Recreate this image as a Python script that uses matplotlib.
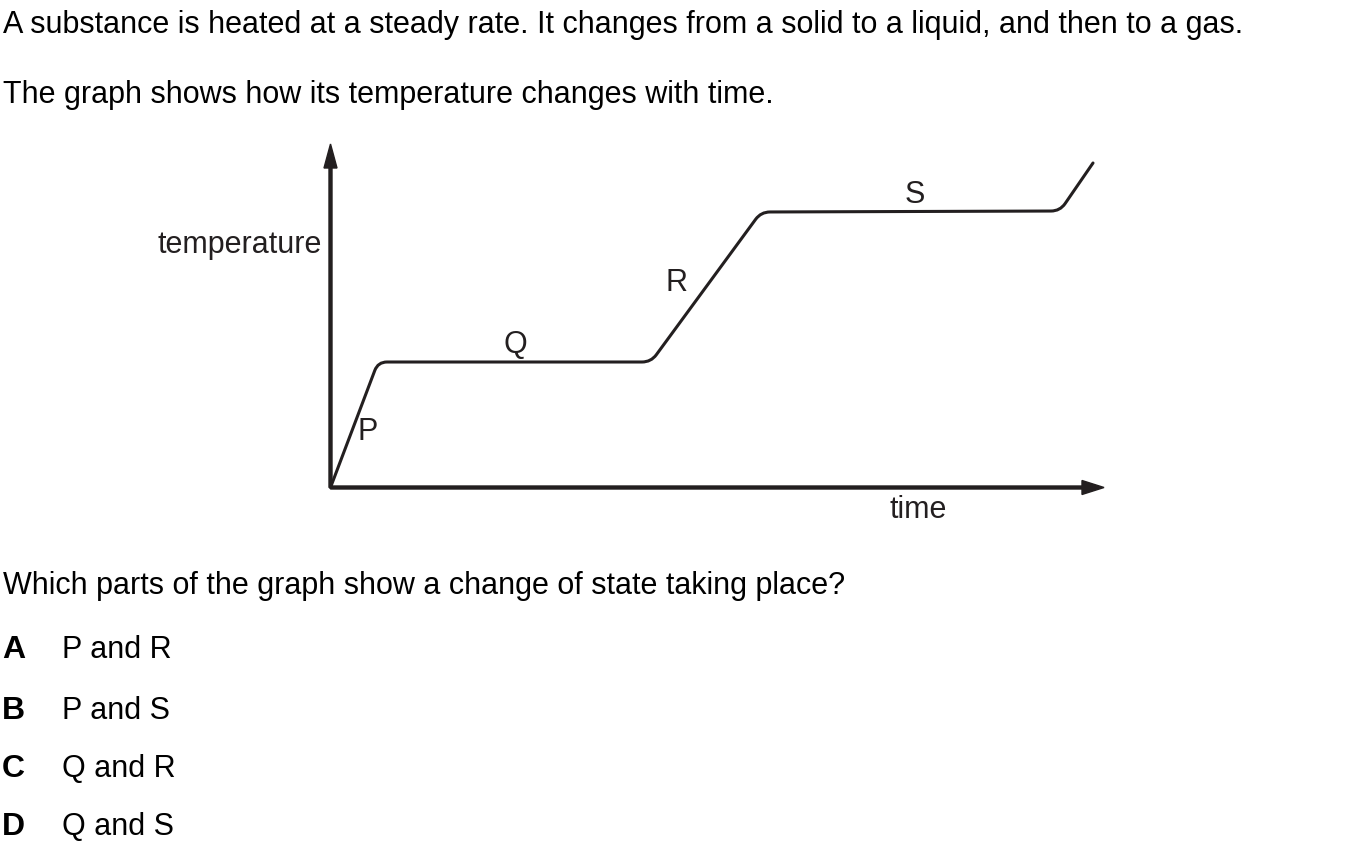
import numpy as np
import matplotlib
matplotlib.use("Agg")
import matplotlib.pyplot as plt
from matplotlib.path import Path
from matplotlib.patches import PathPatch

plt.rcParams['font.family'] = ['Liberation Sans', 'DejaVu Sans']

# heating curve corners (time, temperature), arbitrary units
time = [0, 47.5, 320.5, 430.5, 729.5, 762.5]
temperature = [0, 125.5, 125.5, 275.5, 276.5, 324.5]

# section labels: (text, time, temperature)
sections = ['P', 'Q', 'R', 'S']
label_time = [37.5, 184.5, 346.5, 584.5]
label_temp = [47.5, 134.5, 196.5, 284.5]

intro = ["A substance is heated at a steady rate. It changes from a solid to a liquid, and then to a gas.",
         "The graph shows how its temperature changes with time."]
question = "Which parts of the graph show a change of state taking place?"
letters = ['A', 'B', 'C', 'D']
answers = ['P and R', 'P and S', 'Q and R', 'Q and S']

ink = '#231f20'
W, H = 1354, 846


def rounded_path(xs, ys, r):
    pts = np.column_stack([xs, ys]).astype(float)
    verts = [pts[0]]
    codes = [Path.MOVETO]
    for i in range(1, len(pts) - 1):
        a, p, b = pts[i - 1], pts[i], pts[i + 1]
        u1 = (p - a) / np.hypot(*(p - a))
        u2 = (b - p) / np.hypot(*(b - p))
        verts += [p - u1 * r, p, p + u2 * r]
        codes += [Path.LINETO, Path.CURVE3, Path.CURVE3]
    verts.append(pts[-1])
    codes.append(Path.LINETO)
    return Path(verts, codes)


fig = plt.figure(figsize=(W / 100, H / 100), dpi=100)

def ftext(x, y, s, size=22, **kw):
    fig.text(x / W, 1 - y / H, s, fontsize=size, color='black', va='baseline', **kw)

ftext(3, 33, intro[0])
ftext(3, 103, intro[1])
ftext(3, 594, question)
for l, a, y in zip(letters, answers, [658, 718.5, 777, 835]):
    ftext(2, y, l, size=23, fontweight='bold')
    ftext(62, y, a)

x0, y0 = 330.5, 487.5
xmax, ymax = 773.5, 343.5
ax = fig.add_axes([x0 / W, 1 - y0 / H, xmax / W, ymax / H])
ax.set_xlim(0, xmax)
ax.set_ylim(0, ymax)
ax.axis('off')

ax.arrow(0, 0, xmax, 0, width=3, head_width=14, head_length=22,
         length_includes_head=True, color=ink, clip_on=False)
ax.arrow(0, 0, 0, ymax, width=3, head_width=13, head_length=24,
         length_includes_head=True, color=ink, clip_on=False)

ax.add_patch(PathPatch(rounded_path(time, temperature, 9), fill=False,
                       edgecolor=ink, lw=2.2, capstyle='round', clip_on=False))

for s, t, v in zip(sections, label_time, label_temp):
    ax.text(t, v, s, fontsize=22, ha='center', va='baseline', color=ink)

ax.text(-8.5, 234, 'temperature', fontsize=22, ha='right', va='baseline', color=ink)
ax.text(587.5, -30, 'time', fontsize=22, ha='center', va='baseline', color=ink)

fig.savefig('out.png', dpi=100)
